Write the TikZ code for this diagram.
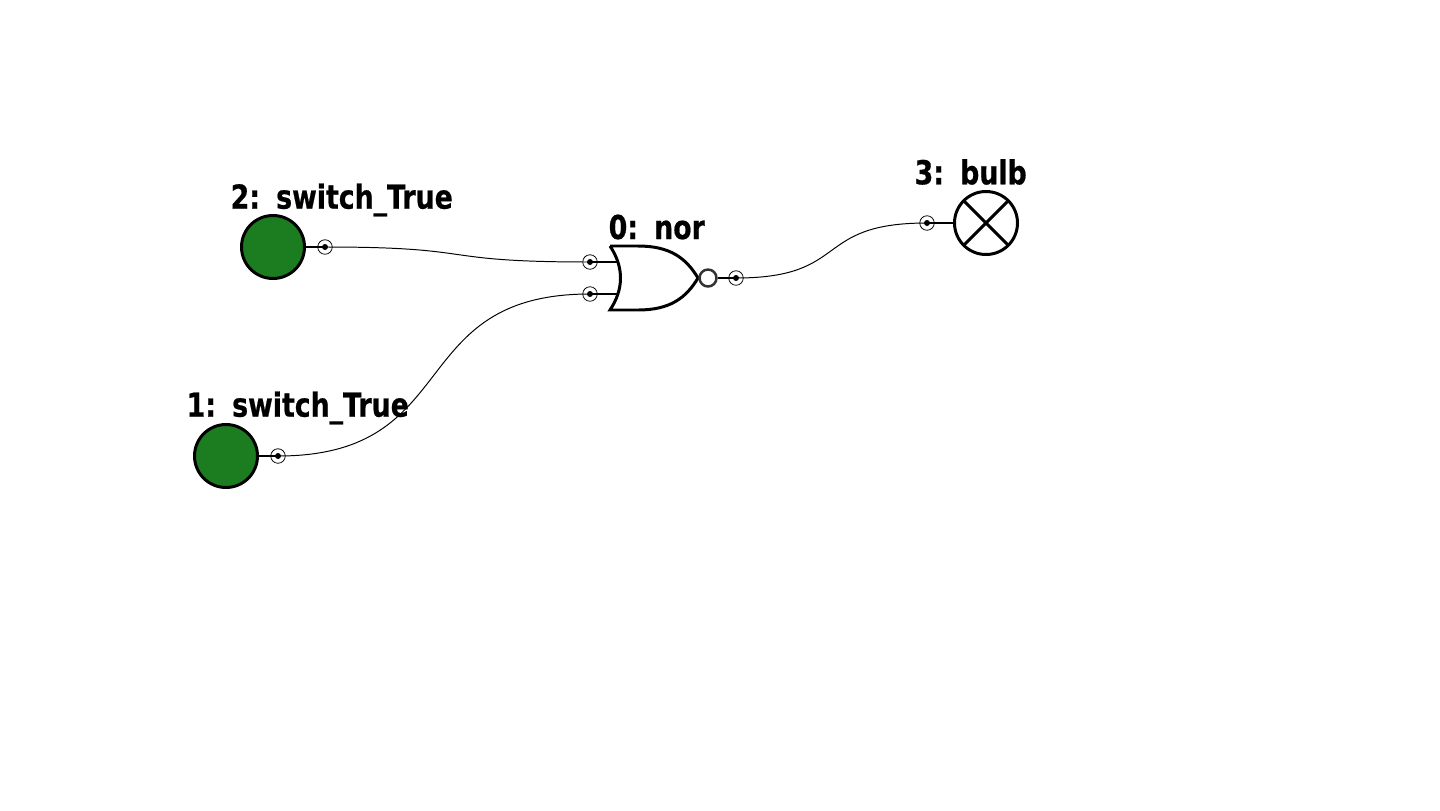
\documentclass[tikz,border=0pt]{standalone}
\usepackage{fontspec}
\setmainfont{DejaVu Sans}[FakeStretch=0.81,BoldFeatures={FakeBold=0.6}]
\usetikzlibrary{calc}
\definecolor{switchgreen}{RGB}{28,124,32}
\tikzset{
  part/.style={circle,draw=black,line width=0.85pt,minimum size=0.63cm,inner sep=0},
  port/.style={circle,draw=black,line width=0.22pt,minimum size=0.145cm,inner sep=0,
    path picture={\fill (path picture bounding box.center) circle (0.03);}},
  stub/.style={line width=0.55pt},
  wire/.style={line width=0.28pt},
  partlabel/.style={font=\bfseries\fontsize{9.4}{12}\selectfont,inner sep=0,anchor=west}
}
\newcommand{\labelgap}{\hspace{4.6pt}}
\begin{document}
\begin{tikzpicture}
\useasboundingbox (0,0) rectangle (14.4,8.1);

\node[part,fill=switchgreen] (switch2) at (2.73,5.63) {};
\node[port] (switch2out) at (3.25,5.63) {};
\draw[stub] (switch2) -- (switch2out.center);
\node[partlabel] (switch2label) at (2.30,6.10) {2:\labelgap switch\_True};

\node[part,fill=switchgreen] (switch1) at (2.26,3.54) {};
\node[port] (switch1out) at (2.78,3.54) {};
\draw[stub] (switch1) -- (switch1out.center);
\node[partlabel] (switch1label) at (1.86,4.02) {1:\labelgap switch\_True};

% nor gate
\coordinate (nortop) at (6.10,5.64);
\coordinate (norbot) at (6.10,5.00);
\coordinate (nortip) at (6.98,5.32);
\coordinate (norin1) at (6.17,5.48);
\coordinate (norin2) at (6.17,5.16);
\draw[line width=0.85pt,line join=miter] (nortop) -- (6.38,5.64) .. controls (6.70,5.64) and (6.86,5.52) .. (nortip)
  .. controls (6.86,5.12) and (6.70,5.00) .. (6.38,5.00) -- (norbot)
  .. controls (6.24,5.21) and (6.24,5.43) .. (nortop);
\node[circle,draw=black!80,line width=0.7pt,minimum size=0.17cm,inner sep=0] (norbubble) at (7.08,5.32) {};
\node[port] (norin1port) at (5.90,5.48) {};
\node[port] (norin2port) at (5.90,5.16) {};
\node[port] (norout) at (7.36,5.32) {};
\draw[stub] (norin1port.center) -- (norin1);
\draw[stub] (norin2port.center) -- (norin2);
\draw[stub] (norbubble) -- (norout.center);
\node[partlabel] (norlabel) at (6.08,5.83) {0:\labelgap nor};

\node[part,path picture={
  \draw[line width=0.85pt] (path picture bounding box.south west) -- (path picture bounding box.north east);
  \draw[line width=0.85pt] (path picture bounding box.north west) -- (path picture bounding box.south east);}] (bulb) at (9.86,5.87) {};
\node[port] (bulbin) at (9.27,5.87) {};
\draw[stub] (bulbin.center) -- (bulb);
\node[partlabel] (bulblabel) at (9.14,6.38) {3:\labelgap bulb};

\draw[wire] (switch2out.center) .. controls (4.84,5.63) and (4.31,5.48) .. (norin1port.center);
\draw[wire] (switch1out.center) .. controls (4.65,3.54) and (4.03,5.16) .. (norin2port.center);
\draw[wire] (norout.center) .. controls (8.51,5.32) and (8.12,5.87) .. (bulbin.center);
\end{tikzpicture}
\end{document}
